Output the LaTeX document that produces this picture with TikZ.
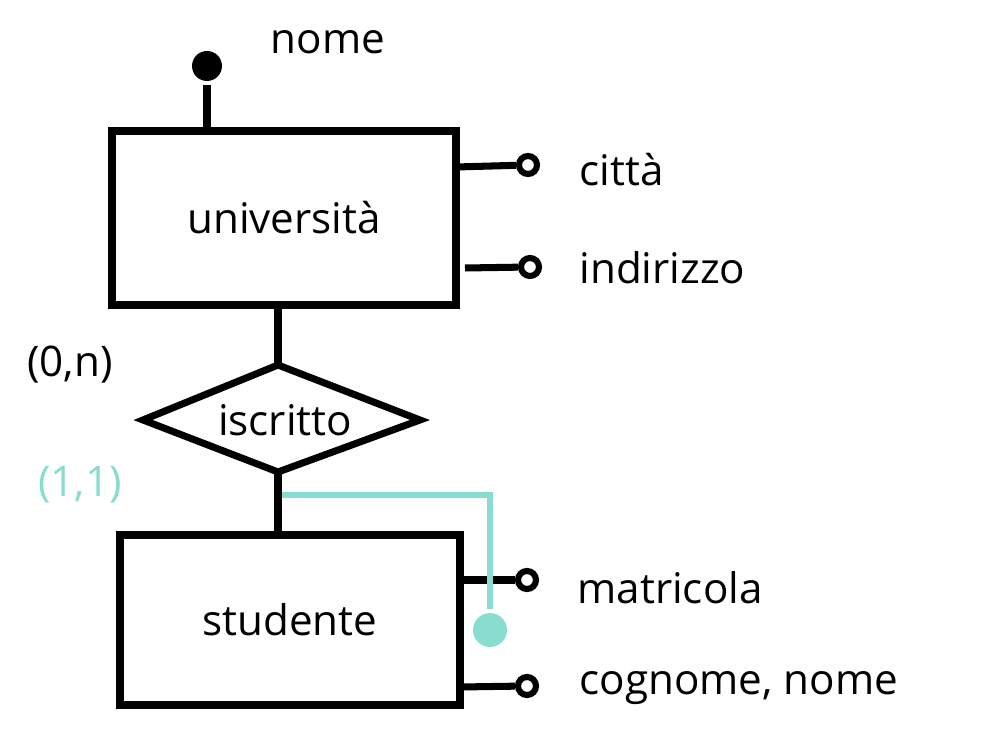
\documentclass[tikz,border=0pt]{standalone}
\usepackage{fontspec}
\setmainfont{Open Sans}
\usepackage{xcolor}
\definecolor{teal1}{HTML}{88DDCE}
\begin{document}
\begin{tikzpicture}[x=0.02cm,y=-0.02cm,line width=4pt,
    lbl/.style={font=\fontsize{24}{28}\selectfont,inner sep=0pt},
    attr/.style={circle,draw,line width=3.5pt,fill=white,minimum size=0.36cm,inner sep=0pt}]
      \useasboundingbox (0,0) rectangle (995,732);

      \coordinate (Uni) at (284,218);
      \coordinate (Stu) at (290,620);

      \draw (112,131) rectangle (456,305);
      \draw (120,535) rectangle (460,705);
      \node[lbl] (uni) at (Uni) {università};
      \node[lbl] (stu) at (Stu) {studente};

      \draw (278,365) -- (420,420) -- (278,472) -- (143,420) -- cycle;
      \node[lbl] (isc) at (285,420) {iscritto};
      \coordinate (Dt) at (278,365);
      \coordinate (Db) at (278,472);
      \coordinate (Ub) at (278,305);
      \coordinate (St) at (278,535);
      \draw (Ub) -- (Dt);
      \draw (Db) -- (St);

      \node[lbl] (card1) at (70,365) {(0,n)};
      \node[lbl,text=teal1] (card2) at (80,485) {(1,1)};

      % identificatore
      \node[circle,fill=black,minimum size=0.6cm,inner sep=0pt] (nomeP) at (207,66) {};
      \coordinate (Ut) at (207,131);
      \draw (Ut) -- (nomeP);
      \node[lbl] (nome) at (328,42) {nome};

      % attributi
      \node[attr] (cittaP) at (528,165) {};
      \node[attr] (indP) at (530,267) {};
      \node[attr] (matP) at (527,580) {};
      \node[attr] (cogP) at (527,686) {};
      \coordinate (c1) at (456,167);
      \coordinate (c2) at (465,268);
      \coordinate (c3) at (460,580);
      \coordinate (c4) at (460,687);
      \draw (c1) -- (cittaP);
      \draw (c2) -- (indP);
      \draw (c3) -- (matP);
      \draw (c4) -- (cogP);
      \node[lbl,anchor=west] (citta) at (576,170) {città};
      \node[lbl,anchor=west] (ind) at (576,268) {indirizzo};
      \node[lbl,anchor=west] (mat) at (574,588) {matricola};
      \node[lbl,anchor=west] (cog) at (576,688) {cognome, nome};

      % identificatore esterno
      \node[circle,fill=teal1,minimum size=0.68cm,inner sep=0pt] (extP) at (490,630) {};
      \coordinate (e0) at (282,495);
      \draw[teal1,line width=3pt] (e0) -| (extP);
    \end{tikzpicture}
\end{document}
